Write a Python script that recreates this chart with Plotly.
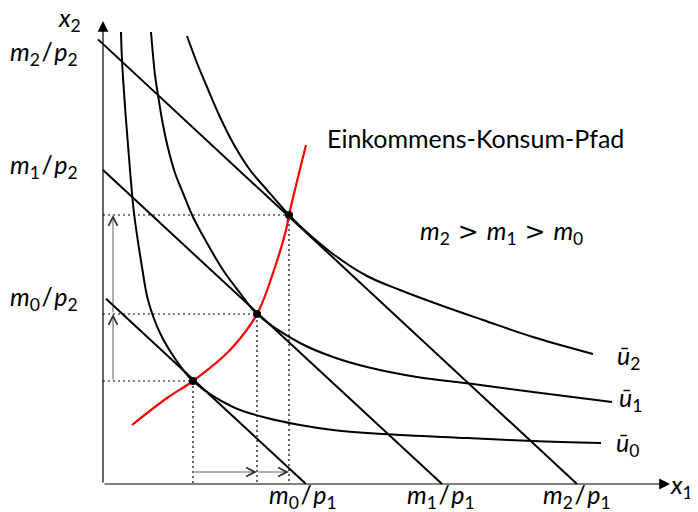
import plotly.graph_objects as go

# ---- data (x1 right, x2 up; origin at the axes corner) ----
u0_x = [18, 19, 23, 27, 31, 39, 45, 57, 73, 90, 130, 164, 197, 230, 280, 364, 430, 498]
u0_y = [452, 424, 364, 314, 271, 217, 184, 151, 124, 103, 77, 66, 59, 54, 50, 46, 43, 41]

u1_x = [48, 52, 55, 60, 65, 72, 80, 90, 104, 120, 137, 154, 197, 230, 264, 314, 370, 430, 509]
u1_y = [452, 409, 389, 359, 336, 311, 291, 267, 241, 214, 191, 170, 141, 127, 117, 107, 100, 92, 82]

u2_x = [84, 94, 104, 117, 130, 147, 164, 186, 197, 230, 264, 297, 337, 380, 430, 490]
u2_y = [448, 421, 397, 367, 341, 314, 294, 269, 258, 230, 208, 194, 179, 164, 147, 130]

icc_x = [29, 64, 90, 127, 154, 172, 183, 186, 203]
icc_y = [59, 86, 103, 134, 170, 217, 254, 269, 339]

budget_x_intercepts = [203, 339, 474]
budget_y_intercepts = [188, 314, 440]
budget_start_x = [3, 0, -5]

opt_x = [90, 154, 186]
opt_y = [103, 170, 269]

income_idx = ["0", "1", "2"]
utility_idx = ["0", "1", "2"]

# ---- figure ----
FONT = "Lato"
fig = go.Figure()

# dotted guide lines
for ox, oy in zip(opt_x, opt_y):
    fig.add_trace(go.Scatter(x=[0, ox, ox], y=[oy, oy, 0], mode="lines",
                             line=dict(color="black", width=1.2, dash="2px,3px"),
                             hoverinfo="skip"))

# budget lines
for xs, xi, yi in zip(budget_start_x, budget_x_intercepts, budget_y_intercepts):
    fig.add_trace(go.Scatter(x=[xs, xi], y=[yi * (1 - xs / xi), 0], mode="lines",
                             line=dict(color="black", width=2), hoverinfo="skip"))

# indifference curves
for cx, cy in [(u0_x, u0_y), (u1_x, u1_y), (u2_x, u2_y)]:
    fig.add_trace(go.Scatter(x=cx, y=cy, mode="lines",
                             line=dict(color="black", width=2, shape="spline", smoothing=1),
                             hoverinfo="skip"))

# income-consumption path
fig.add_trace(go.Scatter(x=icc_x, y=icc_y, mode="lines",
                         line=dict(color="#ff0000", width=2.2, shape="spline", smoothing=1),
                         hoverinfo="skip"))

# optimum points
fig.add_trace(go.Scatter(x=opt_x, y=opt_y, mode="markers",
                         marker=dict(color="black", size=8), hoverinfo="skip"))

ann = []
# axes with arrows
ann.append(dict(x=0, y=463, ax=0, ay=0, xref="x", yref="y", axref="x", ayref="y",
                text="", showarrow=True, arrowhead=2, arrowsize=1.8, arrowwidth=1.2,
                arrowcolor="black"))
ann.append(dict(x=567, y=0, ax=0, ay=0, xref="x", yref="y", axref="x", ayref="y",
                text="", showarrow=True, arrowhead=2, arrowsize=1.8, arrowwidth=1.2,
                arrowcolor="black"))

# small shift arrows
arrow_col = "#333333"
small = dict(xref="x", yref="y", axref="x", ayref="y", text="", showarrow=True,
             arrowhead=5, arrowsize=2.2, arrowwidth=0.8, arrowcolor=arrow_col)
ann.append(dict(x=10, y=opt_y[1], ax=10, ay=opt_y[0], **small))
ann.append(dict(x=10, y=opt_y[2], ax=10, ay=opt_y[1], **small))
ann.append(dict(x=opt_x[1], y=12, ax=opt_x[0], ay=12, **small))
ann.append(dict(x=opt_x[2], y=12, ax=opt_x[1], ay=12, **small))


def frac(i, j):
    return f"<i>m</i><sub>{i}</sub>\u200a/\u200a<i>p</i><sub>{j}</sub>"


font = dict(family=FONT, size=25, color="black")

# y-axis intercept labels
y_label_pos = [186, 318, 431]
for idx, yp in zip(income_idx, y_label_pos):
    ann.append(dict(x=-23, y=yp, xref="x", yref="y", text=frac(idx, "2"), showarrow=False,
                    xanchor="right", yanchor="middle", font=font))
# x-axis intercept labels
x_label_pos = [200, 338, 474]
for idx, xp in zip(income_idx, x_label_pos):
    ann.append(dict(x=xp, y=-12, xref="x", yref="y", text=frac(idx, "1"), showarrow=False,
                    xanchor="center", yanchor="middle", font=font))

# axis names
ann.append(dict(x=578, y=-2, xref="x", yref="y", text="<i>x</i><sub>1</sub>", showarrow=False,
                xanchor="center", yanchor="middle", font=font))
ann.append(dict(x=-34, y=465, xref="x", yref="y", text="<i>x</i><sub>2</sub>", showarrow=False,
                xanchor="center", yanchor="middle", font=font, borderpad=0))

# utility labels
u_label_x = [524, 527, 525]
u_label_y = [40, 85, 127]
for idx, ux, uy in zip(utility_idx, u_label_x, u_label_y):
    ann.append(dict(x=ux, y=uy, xref="x", yref="y", text=f"<i>\u016b</i><sub>{idx}</sub>",
                    showarrow=False, xanchor="center", yanchor="middle", font=font))

ann.append(dict(x=222, y=346, xref="x", yref="y", text="Einkommens-Konsum-Pfad",
                showarrow=False, xanchor="left", yanchor="middle", font=font))
gt = '<span style="font-family:DejaVu Sans"> &gt; </span>'
ann.append(dict(x=398, y=252, xref="x", yref="y",
                text=f"<i>m</i><sub>2</sub>{gt}<i>m</i><sub>1</sub>{gt}<i>m</i><sub>0</sub>",
                showarrow=False, xanchor="center", yanchor="middle", font=font))

# page body has an 8px margin: the figure fills the rest of the 698x512 window
fig.update_layout(
    width=690, height=504,
    margin=dict(l=0, r=0, t=0, b=0),
    paper_bgcolor="white", plot_bgcolor="white",
    showlegend=False,
    xaxis=dict(range=[-95, 595], visible=False, fixedrange=True),
    yaxis=dict(range=[-28, 476], visible=False, fixedrange=True),
    annotations=ann,
)

fig.write_html("out.html")
